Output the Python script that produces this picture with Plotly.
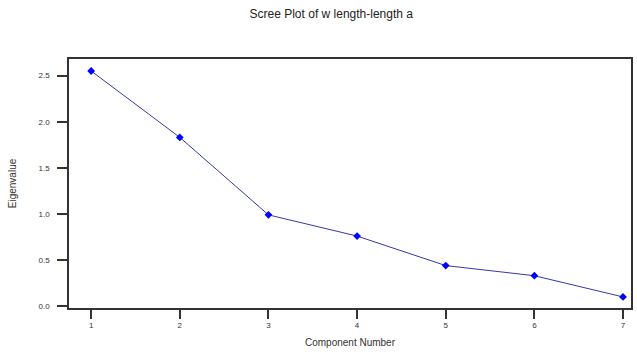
import plotly.graph_objects as go

components = [1, 2, 3, 4, 5, 6, 7]
eigenvalues = [2.55, 1.83, 0.99, 0.76, 0.44, 0.33, 0.10]
y_ticks = [0.0, 0.5, 1.0, 1.5, 2.0, 2.5]
y_tick_labels = ["0.0", "0.5", "1.0", "1.5", "2.0", "2.5"]

fig = go.Figure()
fig.add_trace(go.Scatter(
    x=components, y=eigenvalues, mode="lines+markers",
    line=dict(color="#3838a8", width=1),
    marker=dict(symbol="diamond", size=6, color="#0000ff"),
    showlegend=False,
))

font_family = "Liberation Sans, Arial, sans-serif"
fig.update_layout(
    width=637, height=352,
    margin=dict(l=69, r=4, t=59, b=44),
    paper_bgcolor="white", plot_bgcolor="white",
    font=dict(family=font_family, color="#333333"),
    title=dict(text="Scree Plot of w length-length a", x=0.52, xanchor="center",
               y=0.96, yanchor="middle", font=dict(size=12, color="#222222")),
)
fig.update_xaxes(
    range=[0.75, 7.09], tickvals=components, ticktext=[str(c) for c in components],
    showgrid=False, zeroline=False, showline=True, linecolor="#333333", linewidth=1.5,
    mirror=True, ticks="outside", ticklen=9, tickcolor="#333333", tickwidth=1.5,
    tickfont=dict(size=8, color="#333333"),
    title=dict(text="Component Number", font=dict(size=10, color="#333333"), standoff=10),
)
fig.update_yaxes(
    range=[-0.02, 2.68], tickvals=y_ticks, ticktext=y_tick_labels,
    showgrid=False, zeroline=False, showline=True, linecolor="#333333", linewidth=1.5,
    mirror=True, ticks="outside", ticklen=10, tickcolor="#333333", tickwidth=1.5,
    tickfont=dict(size=8, color="#333333"), ticklabelstandoff=6,
    title=dict(text="Eigenvalue", font=dict(size=10, color="#333333"), standoff=20),
)

fig.write_html(
    "out.html",
    config={"displayModeBar": False},
    post_script="document.body.style.margin='0';document.body.style.padding='0';",
)
